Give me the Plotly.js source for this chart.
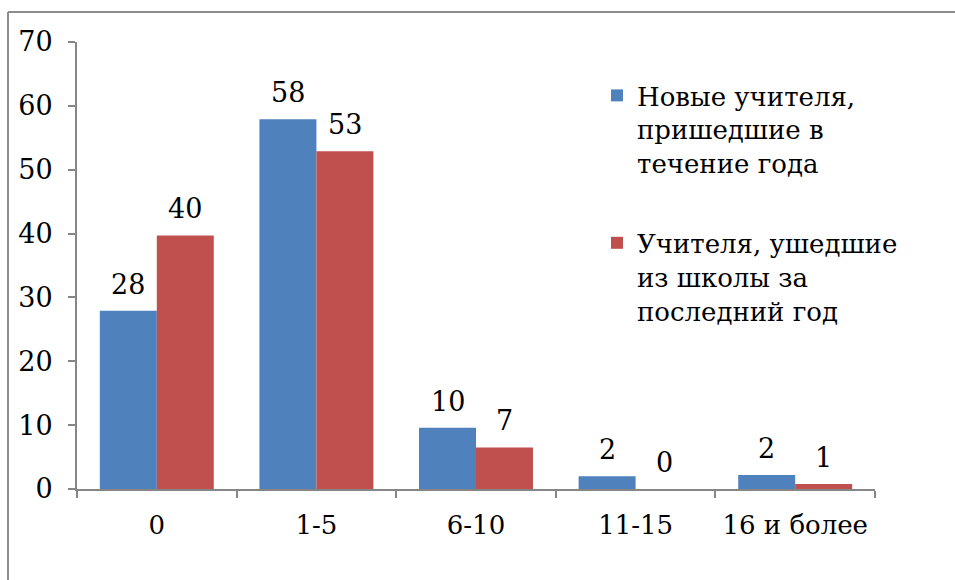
<!DOCTYPE html>
<html>
<head>
<meta charset="utf-8">
<script src="https://cdn.plot.ly/plotly-3.0.1.min.js"></script>
<style>html,body{margin:0;padding:0;background:#fff;}#chart{width:955px;height:580px;}</style>
</head>
<body>
<div id="chart"></div>
<script>
const categories = ["0", "1-5", "6-10", "11-15", "16 и более"];
const newTeachers = [27.9, 57.9, 9.6, 2.0, 2.2];
const leftTeachers = [39.7, 52.9, 6.5, 0, 0.8];
const newLabels = ["28", "58", "10", "2", "2"];
const leftLabels = ["40", "53", "7", "0", "1"];
const seriesNames = ["Новые учителя,<br>пришедшие в<br>течение года", "Учителя, ушедшие<br>из школы за<br>последний год"];
const yTicks = [0, 10, 20, 30, 40, 50, 60, 70];

const W = 955, H = 580;
const M = {l: 77, r: 80, t: 42, b: 91};
const pw = W - M.l - M.r, ph = H - M.t - M.b;
const px = x => (x - M.l) / pw;
const py = y => (H - M.b - y) / ph;

const font = "DejaVu Serif";
const numSize = 27;
const catSize = 26;
const legSize = 26;

const traces = [
  {type: "bar", name: seriesNames[0], x: categories, y: newTeachers,
   marker: {color: "#4F81BD", line: {width: 0}}, legendgroup: "a", hoverinfo: "y"},
  {type: "bar", name: seriesNames[1], x: categories, y: leftTeachers,
   marker: {color: "#C0504D", line: {width: 0}}, legendgroup: "b", hoverinfo: "y"}
];

const annotations = [];
categories.forEach((c, i) => {
  annotations.push({x: c, y: newTeachers[i], xref: "x", yref: "y", text: newLabels[i],
    showarrow: false, xshift: -28.5, yshift: 9, yanchor: "bottom",
    font: {family: font, size: numSize, color: "#000"}});
  annotations.push({x: c, y: leftTeachers[i], xref: "x", yref: "y", text: leftLabels[i],
    showarrow: false, xshift: 28.5, yshift: 9, yanchor: "bottom",
    font: {family: font, size: numSize, color: "#000"}});
});

const frameColor = "#8c8c8c";
const shapes = [
  {type: "line", xref: "paper", yref: "paper", x0: px(8), x1: px(8), y0: py(12), y1: py(600),
   line: {color: frameColor, width: 2}},
  {type: "line", xref: "paper", yref: "paper", x0: px(8), x1: px(960), y0: py(12), y1: py(12),
   line: {color: frameColor, width: 2}}
];

const layout = {
  width: W, height: H,
  margin: M,
  paper_bgcolor: "#fff", plot_bgcolor: "#fff",
  font: {family: font, size: catSize, color: "#000"},
  barmode: "group", bargap: 0.286, bargroupgap: 0,
  showlegend: true,
  legend: {x: px(597), y: py(72), xanchor: "left", yanchor: "top", valign: "top",
    font: {family: font, size: legSize, color: "#000"},
    traceorder: "grouped", tracegroupgap: 43, itemwidth: 30,
    bgcolor: "rgba(0,0,0,0)"},
  xaxis: {type: "category", showline: true, linecolor: "#868686", linewidth: 2,
    ticks: "outside", tickson: "boundaries", ticklen: 7, tickcolor: "#868686", tickwidth: 2,
    showgrid: false, zeroline: false, ticklabelstandoff: 12,
    tickfont: {family: font, size: catSize, color: "#000"}, fixedrange: true},
  yaxis: {range: [0, 70], tickvals: yTicks, showline: true, linecolor: "#868686", linewidth: 2,
    ticks: "outside", ticklen: 7, tickcolor: "#868686", tickwidth: 2,
    showgrid: false, zeroline: false, ticklabelstandoff: 10,
    tickfont: {family: font, size: numSize, color: "#000"}, fixedrange: true},
  annotations: annotations,
  shapes: shapes
};

Plotly.newPlot("chart", traces, layout, {displayModeBar: false, staticPlot: true});
</script>
</body>
</html>
